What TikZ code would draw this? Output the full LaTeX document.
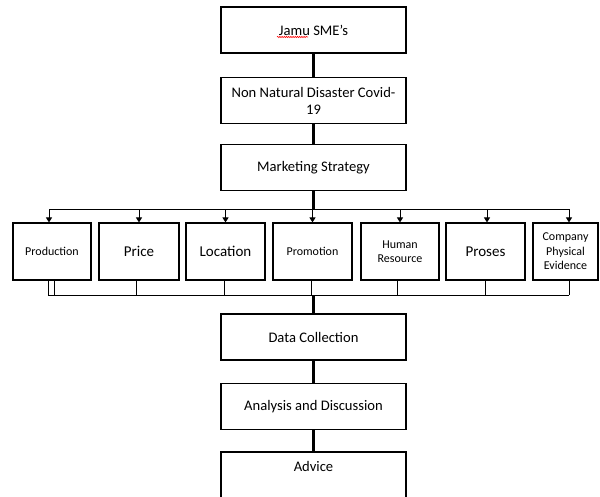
\documentclass[tikz,border=0pt]{standalone}
\usepackage{fontspec}
\setmainfont{Carlito}
\usetikzlibrary{arrows.meta,decorations.pathmorphing}
\begin{document}
\begin{tikzpicture}[x=1pt,y=-1pt,
  box/.style={draw, line width=1.1pt, inner sep=1pt, align=center,
    font=\fontsize{14.6}{17}\selectfont, minimum width=185pt, minimum height=46pt},
  sbox/.style={draw, line width=1.1pt, inner sep=1pt, align=center,
    font=\fontsize{12}{14.5}\selectfont, minimum height=57pt},
  lbox/.style={sbox, font=\fontsize{15}{17}\selectfont},
  link/.style={line width=2.4pt},
  bus/.style={line width=1pt},
  arr/.style={line width=1pt, -{Triangle[length=5pt,width=6pt]}},
  spell/.style={red, line width=0.6pt, decorate,
    decoration={snake, segment length=2.2pt, amplitude=0.6pt}}
]
\useasboundingbox (0,0) rectangle (600,496);
\clip (0,0) rectangle (600,496);
\fill[white] (0,0) rectangle (600,496);

% main column
\node[box] (jamu) at (313.5,30) {Jamu SME’s};
\node[box] (nn) at (313.5,100.5) {Non Natural Disaster Covid-\\19};
\node[box] (ms) at (313.5,167.5) {Marketing Strategy};
\node[box] (dc) at (313.5,337) {Data Collection};
\node[box] (an) at (313.5,406.5) {Analysis and Discussion};
\node[box, minimum height=60pt, text depth=32pt] (adv) at (313.5,482) {Advice};

% spelling underline under "Jamu"
\coordinate (sp1) at (277,37);
\coordinate (sp2) at (308,37);
\draw[spell] (sp1) -- (sp2);

% row of strategy elements
\node[sbox, minimum width=78pt] (prod) at (52,251.5) {Production};
\node[lbox, minimum width=80pt] (price) at (139,251.5) {Price};
\node[lbox, minimum width=79pt] (loc) at (225.5,251.5) {Location};
\node[sbox, minimum width=79pt] (promo) at (312.5,251.5) {Promotion};
\node[sbox, minimum width=78pt] (hr) at (400,251.5) {Human\\Resource};
\node[lbox, minimum width=79pt] (pros) at (485.5,251.5) {Proses};
\node[sbox, minimum width=65pt] (comp) at (565.5,251.5) {Company\\Physical\\Evidence};

% main links
\draw[link] (jamu.south) -- (nn.north);
\draw[link] (nn.south) -- (ms.north);
\coordinate (tm) at (313.5,209);
\draw[link] (ms.south) -- (tm);

% top bus with arrows
\coordinate (t1) at (49,209);
\coordinate (t7) at (569,209);
\draw[bus] (t1) -- (t7);
\draw[arr] (t1) -- (t1 |- prod.north);
\draw[arr] (price.north |- t1) -- (price.north);
\draw[arr] (loc.north |- t1) -- (loc.north);
\draw[arr] (promo.north |- t1) -- (promo.north);
\draw[arr] (hr.north |- t1) -- (hr.north);
\coordinate (t6) at (487,209);
\draw[arr] (t6) -- (t6 |- pros.north);
\draw[arr] (t7) -- (t7 |- comp.north);

% bottom bus
\coordinate (b1) at (48,295);
\coordinate (b1b) at (54,295);
\coordinate (b7) at (569,295);
\draw[bus] (b1) -- (b7);
\draw[bus] (b1 |- prod.south) -- (b1);
\draw[bus] (b1b |- prod.south) -- (b1b);
\coordinate (b2) at (136,295);
\coordinate (b3) at (224,295);
\coordinate (b4) at (311,295);
\coordinate (b5) at (397,295);
\coordinate (b6) at (485,295);
\draw[bus] (b2 |- price.south) -- (b2);
\draw[bus] (b3 |- loc.south) -- (b3);
\draw[bus] (b4 |- promo.south) -- (b4);
\draw[bus] (b5 |- hr.south) -- (b5);
\draw[bus] (b6 |- pros.south) -- (b6);
\draw[bus] (b7 |- comp.south) -- (b7);

\coordinate (bm) at (313.5,295);
\draw[link] (bm) -- (dc.north);
\draw[link] (dc.south) -- (an.north);
\draw[link] (an.south) -- (adv.north);
\end{tikzpicture}
\end{document}
